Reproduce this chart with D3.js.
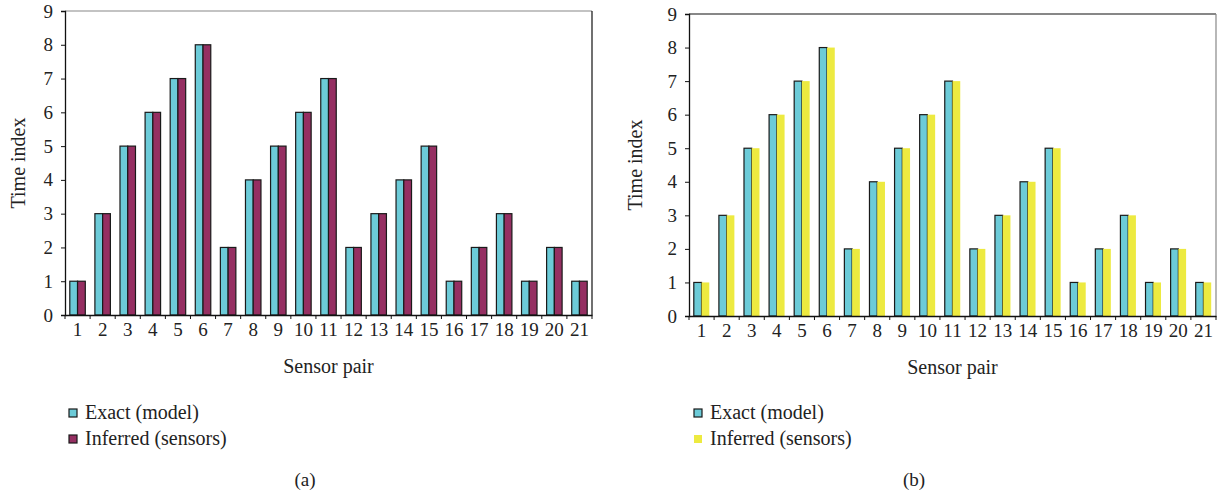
<!DOCTYPE html>
<html>
<head>
<meta charset="utf-8">
<script src="https://cdn.jsdelivr.net/npm/d3@7"></script>
<style>
  body { margin: 0; background: #fff; }
  svg { display: block; font-family: "Liberation Serif", "DejaVu Serif", serif; }
  .axis text { font-size: 19px; fill: #222; font-family: "Liberation Serif", serif; }
  .axis path, .axis line { stroke: #111; }
</style>
</head>
<body>
<div id="chart-area"></div>
<script>
// data
var pairs = d3.range(1, 22).map(String);
var exactModel = [1, 3, 5, 6, 7, 8, 2, 4, 5, 6, 7, 2, 3, 4, 5, 1, 2, 3, 1, 2, 1];
var inferredA  = [1, 3, 5, 6, 7, 8, 2, 4, 5, 6, 7, 2, 3, 4, 5, 1, 2, 3, 1, 2, 1];
var inferredB  = [1, 3, 5, 6, 7, 8, 2, 4, 5, 6, 7, 2, 3, 4, 5, 1, 2, 3, 1, 2, 1];
var yTicks = [0, 1, 2, 3, 4, 5, 6, 7, 8, 9];
var seriesNames = ["Exact (model)", "Inferred (sensors)"];

var cyan = "#6ccbd8";

var svg = d3.select("#chart-area")
    .append("svg")
    .attr("width", 1217)
    .attr("height", 494);

function panel(opts) {
    var width = opts.width, height = opts.height;
    var g = svg.append("g")
        .attr("transform", "translate(" + opts.left + ", " + opts.top + ")");

    var x0 = d3.scaleBand()
        .domain(pairs)
        .range([0, width])
        .padding(0);

    var x1 = d3.scaleBand()
        .domain(["exact", "inferred"])
        .range([0, x0.bandwidth()])
        .paddingInner(0)
        .paddingOuter(0.62);

    var y = d3.scaleLinear()
        .domain([0, 9])
        .range([height, 0]);

    var rows = pairs.map((p, i) => ({ pair: p, exact: exactModel[i], inferred: opts.inferred[i] }));

    // frame (top and right)
    g.append("line").attr("x1", 0).attr("x2", width).attr("y1", 0).attr("y2", 0)
        .attr("stroke", opts.topStroke).attr("stroke-width", 1.2);
    g.append("line").attr("x1", width).attr("x2", width).attr("y1", 0).attr("y2", height)
        .attr("stroke", opts.rightStroke).attr("stroke-width", 1.2);

    var groups = g.selectAll("g.pair").data(rows).enter()
        .append("g")
        .attr("class", "pair")
        .attr("transform", (d) => "translate(" + x0(d.pair) + ",0)");

    groups.append("rect")
        .attr("x", x1("exact"))
        .attr("y", (d) => y(d.exact))
        .attr("width", x1.bandwidth())
        .attr("height", (d) => height - y(d.exact))
        .attr("fill", cyan)
        .attr("stroke", "#1a1a1a")
        .attr("stroke-width", 1.2);

    groups.append("rect")
        .attr("x", x1("inferred"))
        .attr("y", (d) => y(d.inferred))
        .attr("width", x1.bandwidth())
        .attr("height", (d) => height - y(d.inferred))
        .attr("fill", opts.color)
        .attr("stroke", opts.inferredStroke)
        .attr("stroke-width", 1.2);

    // left y axis
    var yAxisCall = d3.axisLeft(y)
        .tickValues(yTicks)
        .tickSize(4)
        .tickPadding(8)
        .tickFormat((d) => d);
    g.append("g")
        .attr("class", "left axis")
        .call(yAxisCall)
        .call((a) => a.select(".domain").attr("stroke-width", 1.3));

    // bottom axis labels
    var bottomAxis = d3.axisBottom(x0)
        .tickSize(0)
        .tickPadding(8);
    g.append("g")
        .attr("class", "bottom axis")
        .attr("transform", "translate(0, " + height + ")")
        .call(bottomAxis)
        .call((a) => a.select(".domain").attr("stroke-width", 1.3));

    // tick marks between categories
    var bounds = pairs.map((p) => x0(p)).concat([width]);
    g.selectAll("line.xtick").data(bounds).enter()
        .append("line")
        .attr("class", "xtick")
        .attr("x1", (d) => d).attr("x2", (d) => d)
        .attr("y1", height).attr("y2", height + 4)
        .attr("stroke", "#111");

    // x axis label
    g.append("text")
        .attr("x", width / 2)
        .attr("y", height + 58)
        .attr("font-size", "20px")
        .attr("text-anchor", "middle")
        .attr("fill", "#222")
        .text("Sensor pair");

    // y axis label
    g.append("text")
        .attr("x", -(height / 2))
        .attr("y", opts.yLabelX)
        .attr("font-size", "20px")
        .attr("text-anchor", "middle")
        .attr("fill", "#222")
        .attr("transform", "rotate(-90)")
        .text("Time index");

    // legend
    var leg = svg.append("g")
        .attr("transform", "translate(" + opts.legX + ", 413)");
    var legColors = [cyan, opts.color];
    var legStrokes = ["#1a1a1a", opts.legendStroke];
    seriesNames.forEach((name, i) => {
        leg.append("rect")
            .attr("x", 0)
            .attr("y", i * 26 - 4)
            .attr("width", 8)
            .attr("height", 8)
            .attr("fill", legColors[i])
            .attr("stroke", legStrokes[i])
            .attr("stroke-width", 1.2);
        leg.append("text")
            .attr("x", 16)
            .attr("y", i * 26 + 6)
            .attr("font-size", "20px")
            .attr("fill", "#222")
            .text(name);
    });

    // caption
    svg.append("text")
        .attr("x", opts.capX)
        .attr("y", 486)
        .attr("font-size", "19px")
        .attr("text-anchor", "middle")
        .attr("fill", "#222")
        .text(opts.caption);
}

panel({
    left: 65, top: 11, width: 527, height: 304,
    inferred: inferredA, color: "#952f62", inferredStroke: "#1a1a1a", legendStroke: "#1a1a1a",
    topStroke: "#888", rightStroke: "#111",
    yLabelX: -40, legX: 69, capX: 305, caption: "(a)"
});

panel({
    left: 689, top: 14, width: 527, height: 302,
    inferred: inferredB, color: "#edea40", inferredStroke: "none", legendStroke: "none",
    topStroke: "#111", rightStroke: "#888",
    yLabelX: -47, legX: 694, capX: 914, caption: "(b)"
});
</script>
</body>
</html>
